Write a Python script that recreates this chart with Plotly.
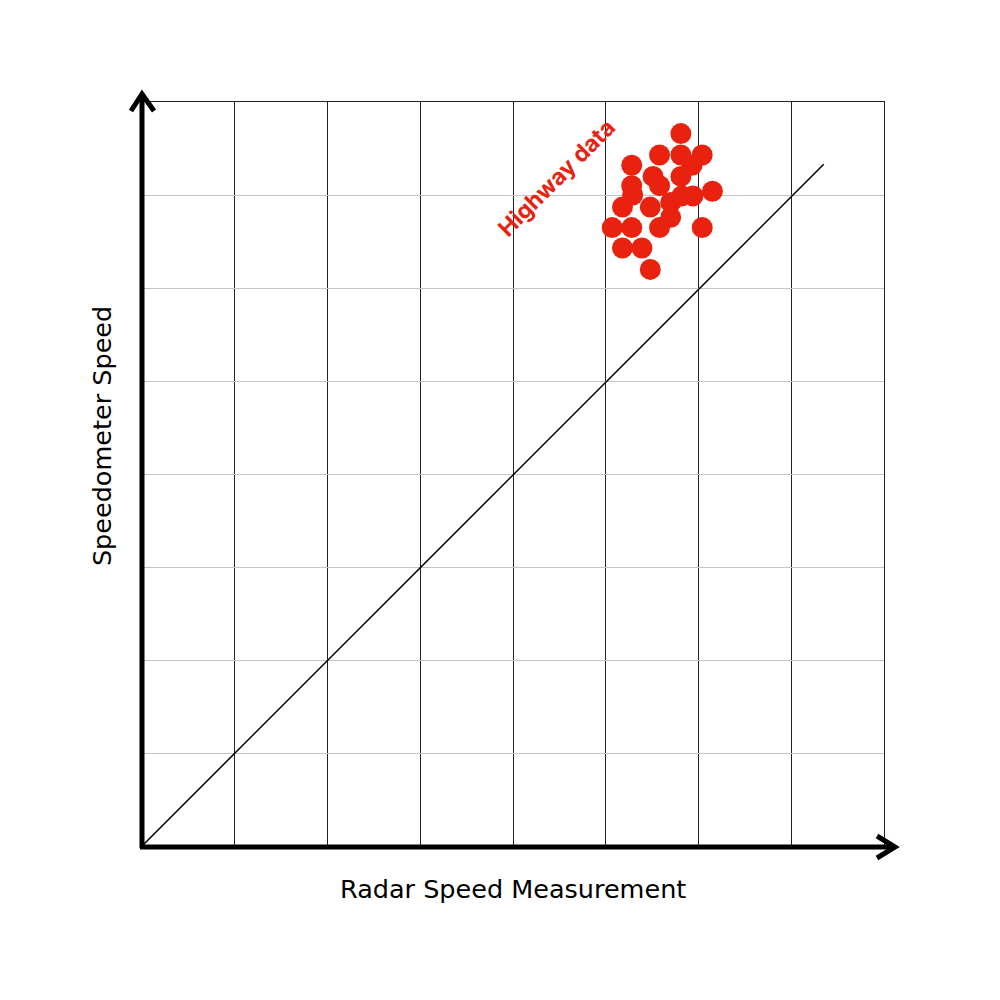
import plotly.graph_objects as go

# Data
radar_speed = [58.1, 55.8, 58.1, 60.4, 52.8, 59.3, 55.1, 58.1, 52.8, 55.8, 52.9, 51.8, 54.8,
               57.0, 58.2, 59.4, 61.5, 57.0, 50.7, 52.8, 55.8, 60.4, 51.8, 53.9, 54.8]
speedo_speed = [76.6, 74.3, 74.3, 74.3, 73.2, 73.2, 72.0, 72.0, 71.0, 71.0, 70.0, 68.7, 68.7,
                69.2, 69.9, 69.9, 70.4, 67.6, 66.5, 66.5, 66.5, 66.5, 64.3, 64.3, 62.0]
ref_line_x = [0, 73.5]
ref_line_y = [0, 73.3]
x_range = [0, 80]
y_range = [0, 80]
grid_step = 10

RED = "#e8220f"
FONT = "DejaVu Sans"

fig = go.Figure()
fig.add_trace(go.Scatter(x=ref_line_x, y=ref_line_y, mode="lines",
                         line=dict(color="black", width=1.5), hoverinfo="skip", showlegend=False))
fig.add_trace(go.Scatter(x=radar_speed, y=speedo_speed, mode="markers",
                         marker=dict(color=RED, size=21, line=dict(width=0)),
                         showlegend=False))

fig.add_annotation(x=44.7, y=71.8, text="<b>Highway data</b>", showarrow=False,
                   textangle=-45, font=dict(family="Inter", size=23, color=RED))

# axis titles
fig.add_annotation(xref="paper", yref="paper", x=0.5, y=-0.0578, yanchor="middle",
                   text="Radar Speed Measurement", showarrow=False,
                   font=dict(family=FONT, size=25.5, color="black"))
fig.add_annotation(xref="paper", yref="paper", x=-0.0539, y=0.551, xanchor="center",
                   yanchor="middle",
                   text="Speedometer Speed", showarrow=False, textangle=-90,
                   font=dict(family=FONT, size=25.5, color="black"))

W, H = 742.0, 744.0
def px(x, y):
    return (x - 142) / W, (846 - y) / H

# Thick axis arrows
shapes = []
x0, y0 = px(142, 848)
x1, y1 = px(142, 94)
shapes.append(dict(type="line", xref="paper", yref="paper", x0=x0, y0=y0, x1=x1, y1=y1,
                   line=dict(color="black", width=5)))
a = px(131, 111); b = px(142, 94); c = px(154, 111)
shapes.append(dict(type="path", xref="paper", yref="paper",
                   path=f"M {a[0]},{a[1]} L {b[0]},{b[1]} L {c[0]},{c[1]}",
                   line=dict(color="black", width=5)))
x0, y0 = px(140, 847)
x1, y1 = px(895, 847)
shapes.append(dict(type="line", xref="paper", yref="paper", x0=x0, y0=y0, x1=x1, y1=y1,
                   line=dict(color="black", width=5)))
a = px(877, 836); b = px(895, 847); c = px(877, 858)
shapes.append(dict(type="path", xref="paper", yref="paper",
                   path=f"M {a[0]},{a[1]} L {b[0]},{b[1]} L {c[0]},{c[1]}",
                   line=dict(color="black", width=5)))
fig.update_layout(shapes=shapes)

fig.update_xaxes(range=x_range, dtick=grid_step, tick0=0, showticklabels=False, ticks="",
                 showgrid=True, gridcolor="#222222", gridwidth=1, zeroline=False,
                 showline=True, mirror=True, linecolor="#222222", linewidth=1)
fig.update_yaxes(range=y_range, dtick=grid_step, tick0=0, showticklabels=False, ticks="",
                 showgrid=True, gridcolor="#c4c4c4", gridwidth=1, zeroline=False,
                 showline=True, mirror=True, linecolor="#222222", linewidth=1)

# body margin of the page shifts the figure by 8px; compensate
fig.update_layout(width=1000, height=1000, margin=dict(l=134, r=124, t=94, b=162),
                  plot_bgcolor="white", paper_bgcolor="white", showlegend=False)

fig.write_html("out.html")
